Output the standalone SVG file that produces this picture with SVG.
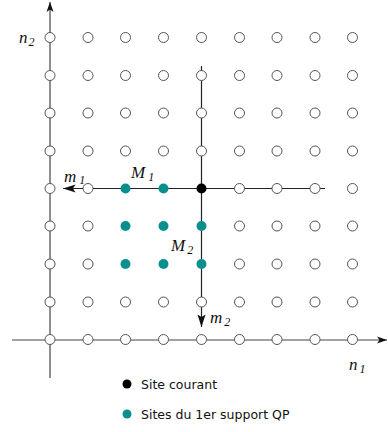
<svg xmlns="http://www.w3.org/2000/svg" width="388" height="432" viewBox="0 0 388 432">
<style>
.g{fill:#fff;stroke:#555;stroke-width:1}
.ax{stroke:#444;stroke-width:1.2;fill:none}
.ln{stroke:#222;stroke-width:1.2;fill:none}
.t{fill:#0a8f8f}
.lab{font-family:"Liberation Serif",serif;font-style:italic;font-size:17px;fill:#111}
.sub{font-size:12px}
.leg{font-family:"DejaVu Sans",sans-serif;font-size:12.5px;fill:#111}
</style>
<defs>
<marker id="ah" viewBox="0 0 10 10" refX="10" refY="5" markerWidth="10" markerHeight="10" markerUnits="userSpaceOnUse" orient="auto"><path d="M0,1.5 L10,5 L0,8.5 L2.5,5 Z" fill="#111"/></marker>
<marker id="ah2" viewBox="0 0 14 10" refX="14" refY="5" markerWidth="14" markerHeight="9" markerUnits="userSpaceOnUse" orient="auto"><path d="M0,0.5 L14,5 L0,9.5 L3,5 Z" fill="#111"/></marker>
</defs>
<g id="connectors">
<line class="ax" x1="50" y1="378" x2="50" y2="2" marker-end="url(#ah)"/>
<line class="ax" x1="12" y1="340" x2="387" y2="340" marker-end="url(#ah)"/>
<line class="ln" x1="325" y1="188.5" x2="63" y2="188.5" marker-end="url(#ah2)"/>
<line class="ln" x1="201.5" y1="66" x2="201.5" y2="327" marker-end="url(#ah2)"/>
</g>
<g id="grid">
<g id="row1"><circle class="g" cx="50" cy="37.5" r="5"/><circle class="g" cx="88" cy="37.5" r="5"/><circle class="g" cx="125.5" cy="37.5" r="5"/><circle class="g" cx="163.5" cy="37.5" r="5"/><circle class="g" cx="201.5" cy="37.5" r="5"/><circle class="g" cx="239.5" cy="37.5" r="5"/><circle class="g" cx="277" cy="37.5" r="5"/><circle class="g" cx="315" cy="37.5" r="5"/><circle class="g" cx="352.5" cy="37.5" r="5"/></g>
<g id="row2"><circle class="g" cx="50" cy="75.5" r="5"/><circle class="g" cx="88" cy="75.5" r="5"/><circle class="g" cx="125.5" cy="75.5" r="5"/><circle class="g" cx="163.5" cy="75.5" r="5"/><circle class="g" cx="201.5" cy="75.5" r="5"/><circle class="g" cx="239.5" cy="75.5" r="5"/><circle class="g" cx="277" cy="75.5" r="5"/><circle class="g" cx="315" cy="75.5" r="5"/><circle class="g" cx="352.5" cy="75.5" r="5"/></g>
<g id="row3"><circle class="g" cx="50" cy="113" r="5"/><circle class="g" cx="88" cy="113" r="5"/><circle class="g" cx="125.5" cy="113" r="5"/><circle class="g" cx="163.5" cy="113" r="5"/><circle class="g" cx="201.5" cy="113" r="5"/><circle class="g" cx="239.5" cy="113" r="5"/><circle class="g" cx="277" cy="113" r="5"/><circle class="g" cx="315" cy="113" r="5"/><circle class="g" cx="352.5" cy="113" r="5"/></g>
<g id="row4"><circle class="g" cx="50" cy="151" r="5"/><circle class="g" cx="88" cy="151" r="5"/><circle class="g" cx="125.5" cy="151" r="5"/><circle class="g" cx="163.5" cy="151" r="5"/><circle class="g" cx="201.5" cy="151" r="5"/><circle class="g" cx="239.5" cy="151" r="5"/><circle class="g" cx="277" cy="151" r="5"/><circle class="g" cx="315" cy="151" r="5"/><circle class="g" cx="352.5" cy="151" r="5"/></g>
<g id="row5"><circle class="g" cx="50" cy="188.5" r="5"/><circle class="g" cx="88" cy="188.5" r="5"/><circle class="t" cx="125.5" cy="188.5" r="5"/><circle class="t" cx="163.5" cy="188.5" r="5"/><circle fill="#000" cx="201.5" cy="188.5" r="5"/><circle class="g" cx="239.5" cy="188.5" r="5"/><circle class="g" cx="277" cy="188.5" r="5"/><circle class="g" cx="315" cy="188.5" r="5"/><circle class="g" cx="352.5" cy="188.5" r="5"/></g>
<g id="row6"><circle class="g" cx="50" cy="226" r="5"/><circle class="g" cx="88" cy="226" r="5"/><circle class="t" cx="125.5" cy="226" r="5"/><circle class="t" cx="163.5" cy="226" r="5"/><circle class="t" cx="201.5" cy="226" r="5"/><circle class="g" cx="239.5" cy="226" r="5"/><circle class="g" cx="277" cy="226" r="5"/><circle class="g" cx="315" cy="226" r="5"/><circle class="g" cx="352.5" cy="226" r="5"/></g>
<g id="row7"><circle class="g" cx="50" cy="264" r="5"/><circle class="g" cx="88" cy="264" r="5"/><circle class="t" cx="125.5" cy="264" r="5"/><circle class="t" cx="163.5" cy="264" r="5"/><circle class="t" cx="201.5" cy="264" r="5"/><circle class="g" cx="239.5" cy="264" r="5"/><circle class="g" cx="277" cy="264" r="5"/><circle class="g" cx="315" cy="264" r="5"/><circle class="g" cx="352.5" cy="264" r="5"/></g>
<g id="row8"><circle class="g" cx="50" cy="302" r="5"/><circle class="g" cx="88" cy="302" r="5"/><circle class="g" cx="125.5" cy="302" r="5"/><circle class="g" cx="163.5" cy="302" r="5"/><circle class="g" cx="201.5" cy="302" r="5"/><circle class="g" cx="239.5" cy="302" r="5"/><circle class="g" cx="277" cy="302" r="5"/><circle class="g" cx="315" cy="302" r="5"/><circle class="g" cx="352.5" cy="302" r="5"/></g>
<g id="row9"><circle class="g" cx="50" cy="339.5" r="5"/><circle class="g" cx="88" cy="339.5" r="5"/><circle class="g" cx="125.5" cy="339.5" r="5"/><circle class="g" cx="163.5" cy="339.5" r="5"/><circle class="g" cx="201.5" cy="339.5" r="5"/><circle class="g" cx="239.5" cy="339.5" r="5"/><circle class="g" cx="277" cy="339.5" r="5"/><circle class="g" cx="315" cy="339.5" r="5"/><circle class="g" cx="352.5" cy="339.5" r="5"/></g>
</g>
<g id="labels">
<text class="lab" x="19" y="43">n<tspan class="sub" dx="1" dy="3">2</tspan></text>
<text class="lab" x="64" y="182">m<tspan class="sub" dx="3" dy="2">1</tspan></text>
<text class="lab" x="131" y="178">M<tspan class="sub" dx="3" dy="3">1</tspan></text>
<text class="lab" x="171" y="251">M<tspan class="sub" dx="2" dy="3">2</tspan></text>
<text class="lab" x="210" y="323">m<tspan class="sub" dx="2" dy="3">2</tspan></text>
<text class="lab" x="349" y="370">n<tspan class="sub" dx="2" dy="3">1</tspan></text>
</g>
<g id="legend">
<circle fill="#000" cx="127" cy="384" r="4.5"/>
<text class="leg" x="141" y="389">Site courant</text>
<circle class="t" cx="127" cy="414" r="4.5"/>
<text class="leg" x="141" y="419">Sites du 1er support QP</text>
</g>
</svg>
